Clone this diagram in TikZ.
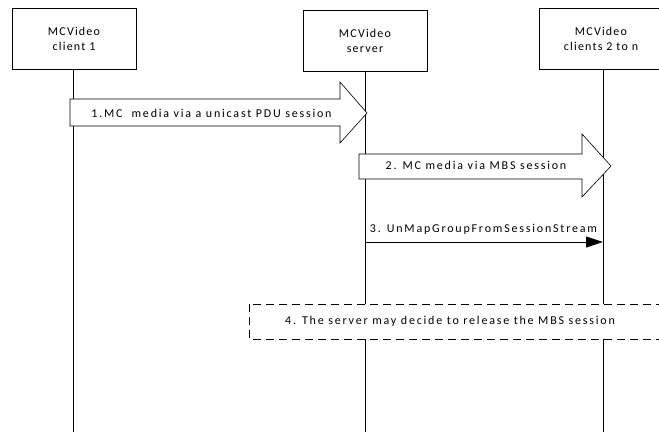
\documentclass[tikz,border=0pt]{standalone}
\usepackage{fontspec}
\setmainfont{Carlito}
\newfontfamily\entfont[LetterSpace=10]{Carlito}
\newfontfamily\msgfont[LetterSpace=15]{Carlito}
\usetikzlibrary{arrows.meta,shapes.arrows}
\begin{document}
\begin{tikzpicture}[x=1pt,y=-1pt,
  ent/.style={draw,line width=0.6pt,minimum width=124pt,minimum height=61pt,align=center,font=\entfont\fontsize{12}{15}\selectfont},
  life/.style={line width=0.8pt},
  lbl/.style={font=\msgfont\fontsize{12}{14}\selectfont,inner sep=1pt},
  blk/.style={draw,fill=white,line width=0.6pt}]
\useasboundingbox (0,0) rectangle (659,432);
\node[ent] (c1) at (74,38.5) {MCVideo\\client 1};
\node[ent] (srv) at (365,41) {MCVideo\\server};
\node[ent] (c2) at (601,38.5) {MCVideo\\clients 2 to n};
\coordinate (c1b) at (73,432);
\coordinate (srvb) at (365,432);
\coordinate (c2b) at (603,432);
\draw[life] (c1.south -| c1b) -- (c1b);
\draw[life] (srv.south -| srvb) -- (srvb);
\draw[life] (c2.south -| c2b) -- (c2b);
% arrow 1
\draw[blk] (70,99) -- (340,99) -- (340,82) -- (367,113) -- (340,143) -- (340,126) -- (70,126) -- cycle;
\node[lbl] (m1) at (211.5,113) {1.MC\ \ media via a unicast PDU session};
% arrow 2
\draw[blk] (359,154) -- (582,154) -- (582,134) -- (611,166) -- (582,197) -- (582,179) -- (359,179) -- cycle;
\node[lbl] (m2) at (476,165) {2. MC media via MBS session};
% arrow 3
\coordinate (a3s) at (365,242);
\coordinate (a3e) at (603,242);
\draw[line width=0.8pt,-{Triangle[length=17pt,width=11pt]}] (a3s) -- (a3e);
\node[lbl,anchor=south] (m3) at (483.5,236) {3. UnMapGroupFromSessionStream};
% dashed box
\draw[dashed,dash pattern=on 8pt off 5pt,line width=0.8pt,fill=white] (249,304) rectangle (662,339);
\node[lbl] (m4) at (450,321) {4. The server may decide to release the MBS session};
\end{tikzpicture}
\end{document}
